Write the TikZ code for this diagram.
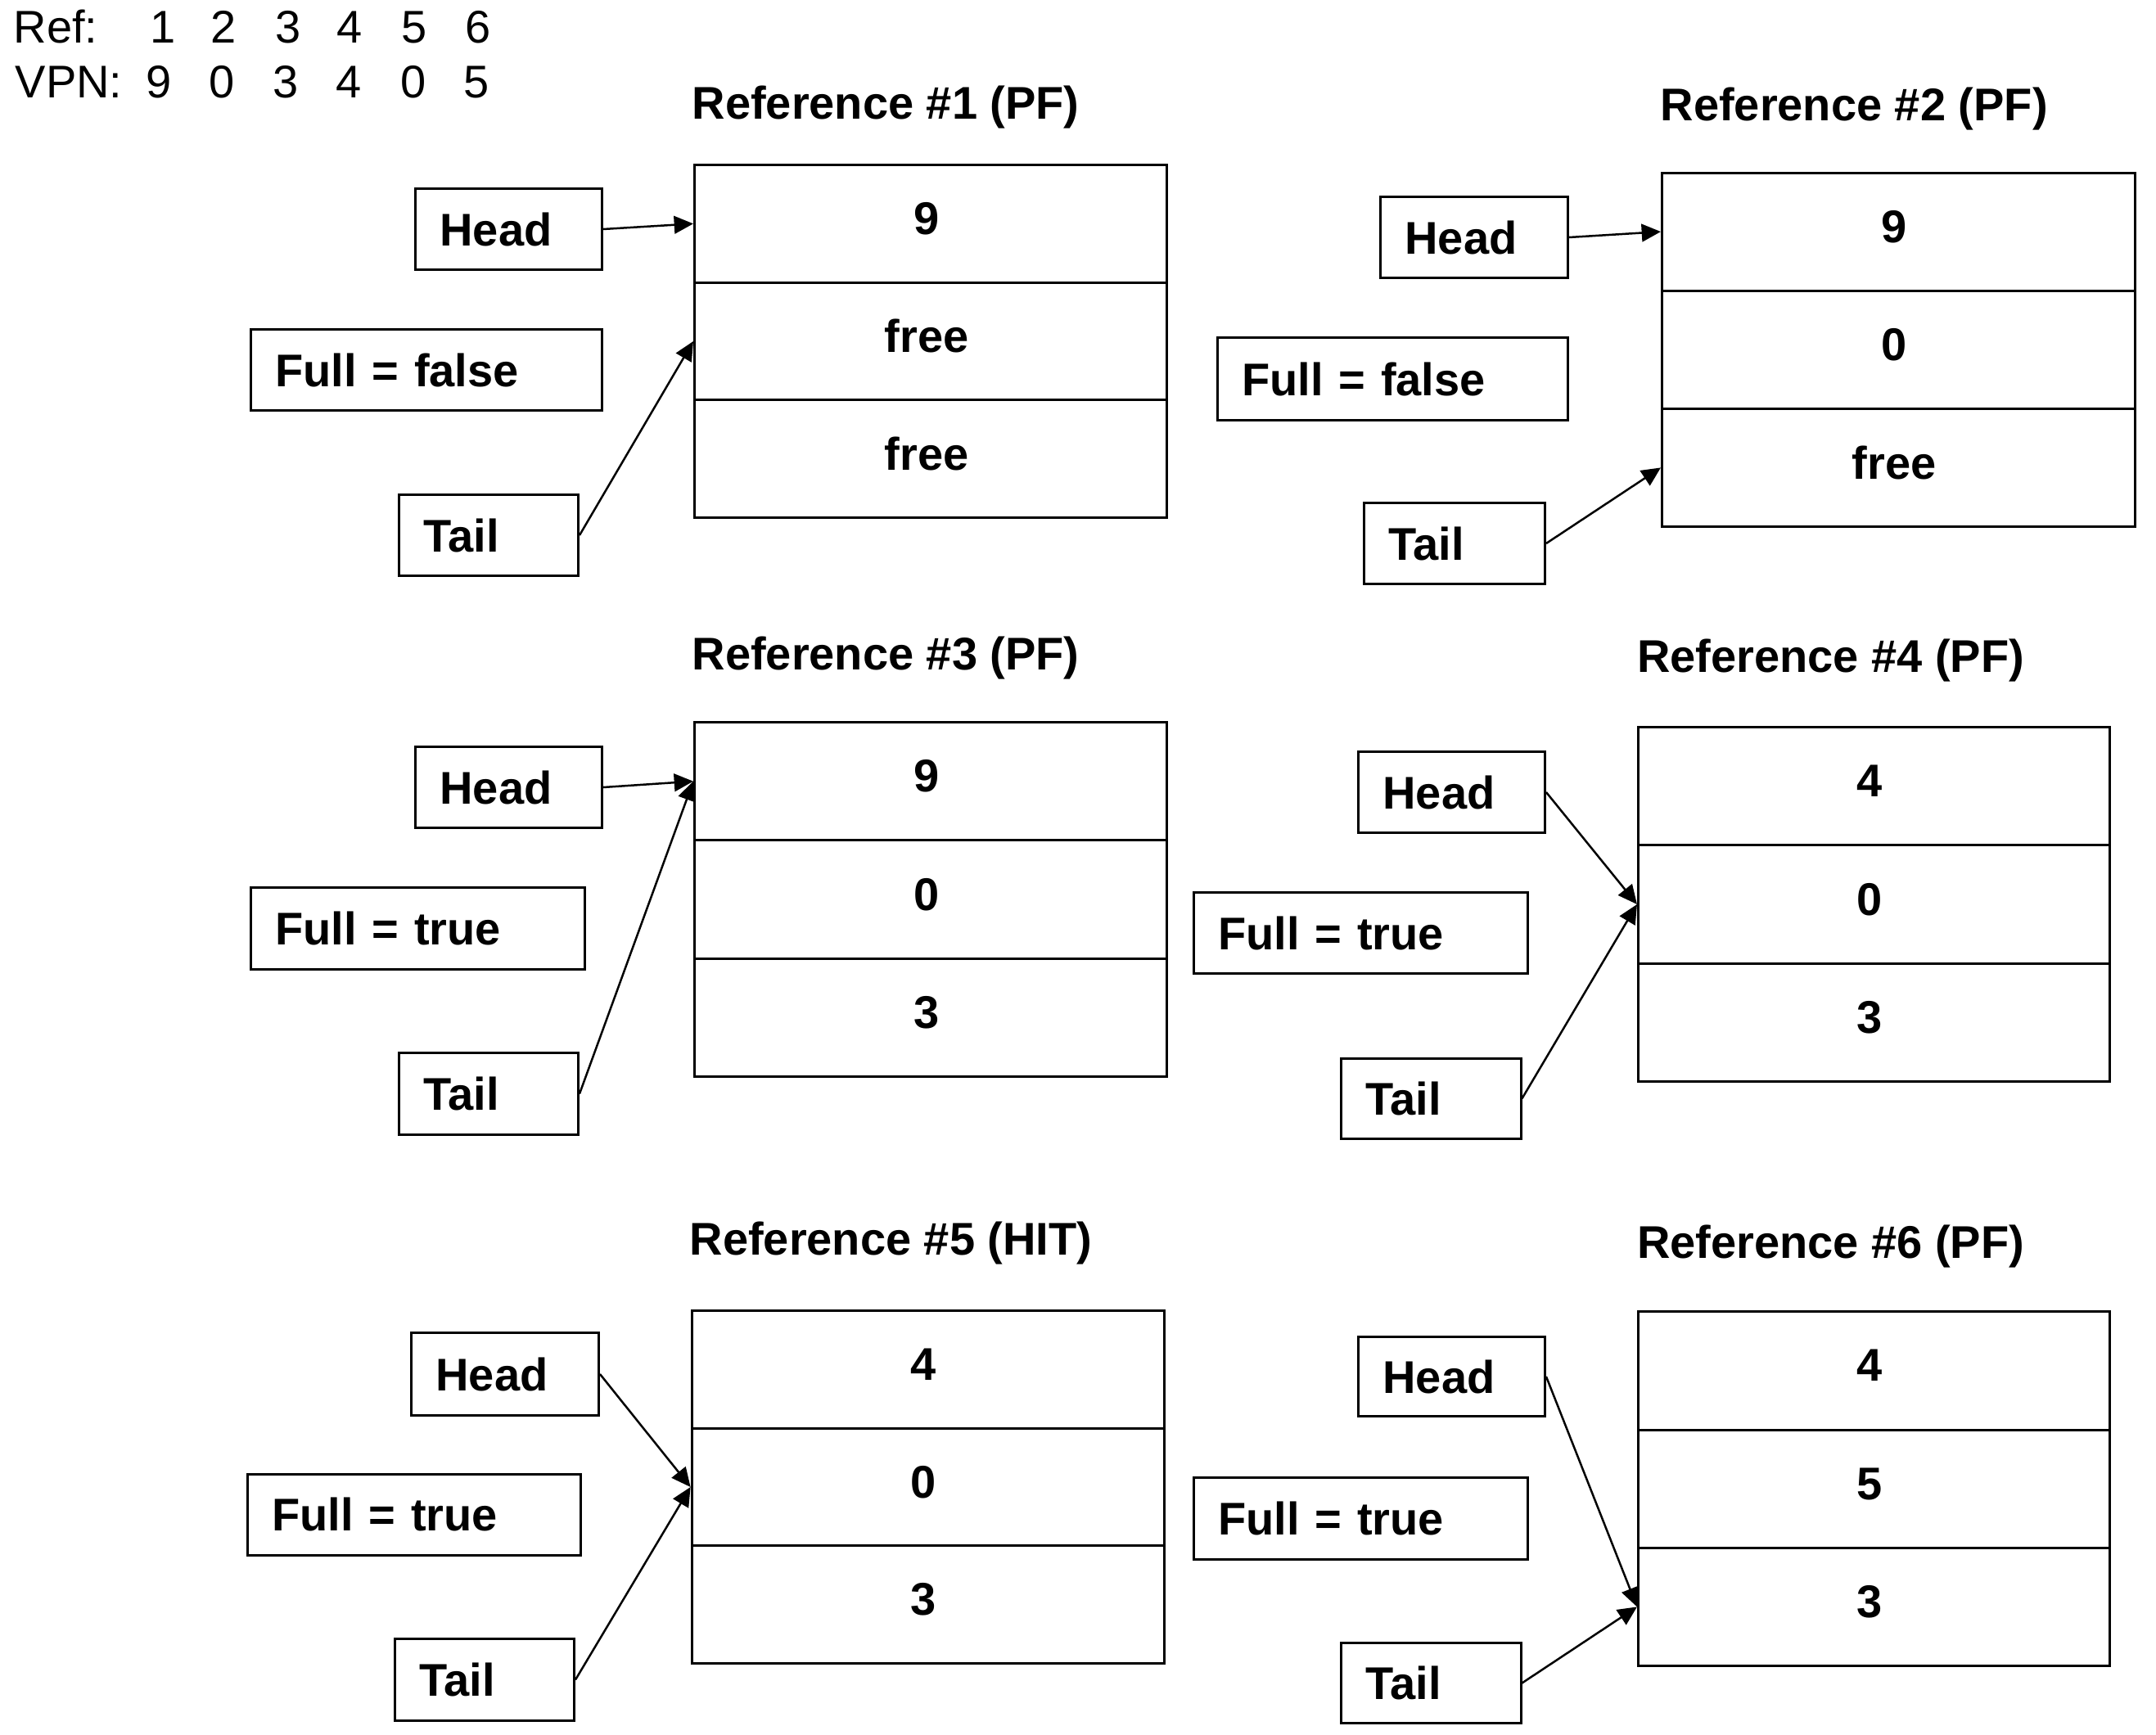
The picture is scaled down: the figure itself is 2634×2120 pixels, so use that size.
\documentclass[tikz,border=0pt]{standalone}
\usepackage{fontspec}
\setmainfont{Liberation Sans}
\usetikzlibrary{arrows.meta}
\newcommand\labbox[6]{%
  \pgfmathsetlengthmacro\bw{(#4-#2)*0.3pt}%
  \pgfmathsetlengthmacro\bh{(#5-#3)*0.3pt}%
  \pgfmathsetlengthmacro\tw{(#4-#2)*0.3pt-18pt}%
  \node[lbox, minimum width=\bw, minimum height=\bh, text width=\tw, anchor=north west] (#1) at (#2,#3) {#6};%
}
\newcommand\memtab[8]{%
  \pgfmathsetlengthmacro\cw{(#4-#2)*0.3pt}%
  \pgfmathsetlengthmacro\ch{(#5-#3)*0.1pt}%
  \pgfmathsetmacro\yb{#3+(#5-#3)/3}%
  \pgfmathsetmacro\yc{#3+2*(#5-#3)/3}%
  \node[cell, minimum width=\cw, minimum height=\ch] (#1a) at (#2,#3) {\kern-3pt#6};%
  \node[cell, minimum width=\cw, minimum height=\ch] (#1b) at (#2,\yb) {\kern-3pt#7};%
  \node[cell, minimum width=\cw, minimum height=\ch] (#1c) at (#2,\yc) {\kern-3pt#8};%
}
\tikzset{
  lbox/.style={draw, line width=0.9pt, font=\fontsize{16.8}{20}\selectfont\bfseries, align=left, inner xsep=9pt, inner ysep=0pt},
  cell/.style={draw, line width=0.9pt, font=\fontsize{16.8}{20}\selectfont\bfseries, inner sep=0pt, anchor=north west, text depth=0.38em},
  ttl/.style={font=\fontsize{16.8}{20}\selectfont\bfseries, inner sep=0pt, anchor=base west},
  plain/.style={font=\fontsize{16.8}{20}\selectfont, inner sep=0pt, anchor=base},
  conn/.style={line width=0.75pt, -{Triangle[length=7pt,width=6.5pt]}}
}
\begin{document}
\begin{tikzpicture}[x=0.3pt,y=-0.3pt]
\useasboundingbox (0,0) rectangle (2634,2120);

% sequence
\node[plain, anchor=base west] (refl) at (16,52) {Ref:};
\node[plain] (r1) at (199,52) {1};
\node[plain] (r2) at (273,52) {2};
\node[plain] (r3) at (352,52) {3};
\node[plain] (r4) at (427,52) {4};
\node[plain] (r5) at (506,52) {5};
\node[plain] (r6) at (584,52) {6};
\node[plain, anchor=base west] (vpnl) at (18,120) {VPN:};
\node[plain] (v1) at (194,120) {9};
\node[plain] (v2) at (271,120) {0};
\node[plain] (v3) at (349,120) {3};
\node[plain] (v4) at (426,120) {4};
\node[plain] (v5) at (505,120) {0};
\node[plain] (v6) at (582,120) {5};

% Panel 1
\node[ttl] (T1) at (845,145.5) {Reference \#1 (PF)};
\labbox{h1}{506}{229}{734}{328}{Head}
\labbox{f1}{305}{401}{734}{500}{Full = false}
\labbox{tl1}{486}{603}{705}{702}{Tail}
\memtab{t1}{847}{200}{1424}{631}{9}{free}{free}
\draw[conn] (h1.east) -- (t1a.west);
\draw[conn] (tl1.east) -- (t1b.west);

% Panel 2
\node[ttl] (T2) at (2028,147) {Reference \#2 (PF)};
\labbox{h2}{1685}{239}{1914}{338}{Head}
\labbox{f2}{1486}{411}{1914}{512}{Full = false}
\labbox{tl2}{1665}{613}{1886}{712}{Tail}
\memtab{t2}{2029}{209.5}{2606.5}{642}{9}{0}{free}
\draw[conn] (h2.east) -- (t2a.west);
\draw[conn] (tl2.east) -- (t2c.west);

% Panel 3
\node[ttl] (T3) at (845,818.5) {Reference \#3 (PF)};
\labbox{h3}{506}{911}{734}{1010}{Head}
\labbox{f3}{305}{1083}{713}{1183}{Full = true}
\labbox{tl3}{486}{1285}{705}{1385}{Tail}
\memtab{t3}{847}{881}{1424}{1314}{9}{0}{3}
\draw[conn] (h3.east) -- (t3a.west);
\draw[conn] (tl3.east) -- (t3a.west);

% Panel 4
\node[ttl] (T4) at (1999.5,821) {Reference \#4 (PF)};
\labbox{h4}{1658}{917}{1886}{1016}{Head}
\labbox{f4}{1457}{1089}{1865}{1188}{Full = true}
\labbox{tl4}{1637}{1291.5}{1856.5}{1390}{Tail}
\memtab{t4}{2000}{887}{2576}{1320}{4}{0}{3}
\draw[conn] (h4.east) -- (t4b.west);
\draw[conn] (tl4.east) -- (t4b.west);

% Panel 5
\node[ttl] (T5) at (842,1533) {Reference \#5 (HIT)};
\labbox{h5}{501}{1627}{730}{1728}{Head}
\labbox{f5}{301}{1799.5}{708}{1899}{Full = true}
\labbox{tl5}{481}{2001}{700}{2101}{Tail}
\memtab{t5}{843.6}{1600}{1420.5}{2031}{4}{0}{3}
\draw[conn] (h5.east) -- (t5b.west);
\draw[conn] (tl5.east) -- (t5b.west);

% Panel 6
\node[ttl] (T6) at (1999.5,1537) {Reference \#6 (PF)};
\labbox{h6}{1658}{1632}{1886}{1729}{Head}
\labbox{f6}{1457}{1804}{1865}{1904}{Full = true}
\labbox{tl6}{1637}{2006}{1856.5}{2104}{Tail}
\memtab{t6}{2000}{1601.4}{2576}{2034}{4}{5}{3}
\draw[conn] (h6.east) -- (t6c.west);
\draw[conn] (tl6.east) -- (t6c.west);
\end{tikzpicture}
\end{document}
